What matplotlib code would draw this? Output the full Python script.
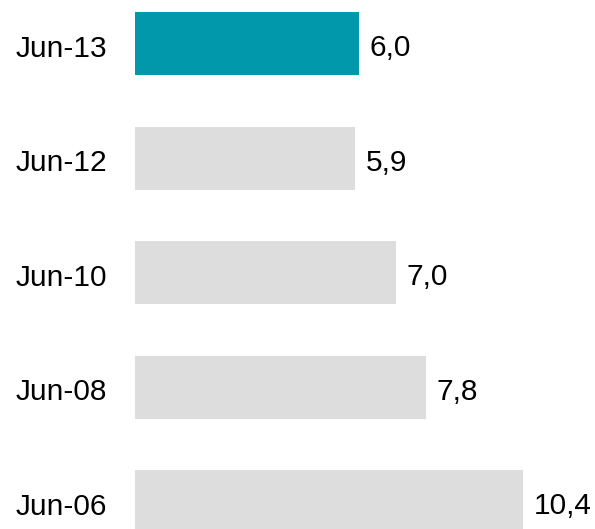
import matplotlib.pyplot as plt
import matplotlib.transforms as mtransforms

# Values per period (top to bottom)
periods = ['Jun-13', 'Jun-12', 'Jun-10', 'Jun-08', 'Jun-06']
values = [6.0, 5.9, 7.0, 7.8, 10.4]
highlight = 'Jun-13'

plt.rcParams['font.family'] = ['Liberation Sans', 'DejaVu Sans']

fig = plt.figure(figsize=(5.95, 5.29), dpi=100)
ax = fig.add_axes([135 / 595, 0, 460 / 595, 1])

colors = ['#0098AA' if p == highlight else '#DDDDDD' for p in periods]
pos = list(range(len(periods)))
ax.barh(pos, values, height=0.55, color=colors)

# value labels with comma decimals
for y, v in zip(pos, values):
    ax.text(v + 0.27, y + 0.04, f'{v:.1f}'.replace('.', ','),
            va='center', ha='left', fontsize=21.5, color='black')

ax.set_xlim(0, 460 / 37.33)
ax.set_ylim(4.24, -0.38)
ax.set_yticks(pos)
ax.set_yticklabels(periods, fontsize=21.5)
ax.tick_params(axis='y', length=0, pad=20)
# nudge category labels down a little
shift = mtransforms.ScaledTranslation(0, -2 / 100, fig.dpi_scale_trans)
for lbl in ax.get_yticklabels():
    lbl.set_transform(lbl.get_transform() + shift)
ax.set_xticks([])
for s in ax.spines.values():
    s.set_visible(False)

fig.savefig('out.png', dpi=100)
